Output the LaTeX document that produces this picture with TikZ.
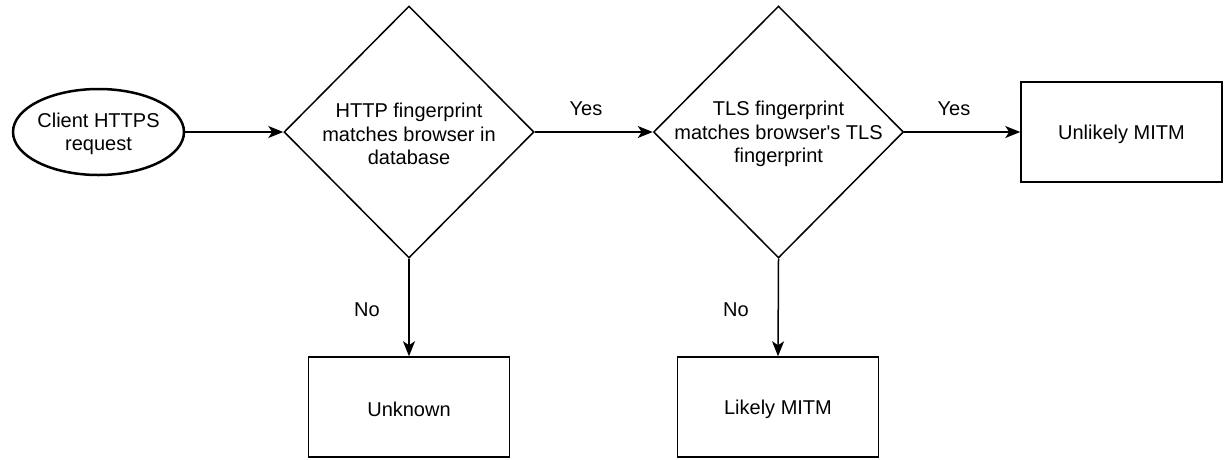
\documentclass[tikz,border=0pt]{standalone}
\usepackage{fontspec}
\setmainfont{Liberation Sans}
\usetikzlibrary{shapes.geometric,arrows.meta}

\tikzset{
  lbl/.style={font=\fontsize{20}{23.5}\selectfont, text=black},
  txt/.style={lbl, align=center},
  startnode/.style={ellipse, draw, line width=2.5pt, inner sep=0pt,
    minimum width=171pt, minimum height=86pt, txt},
  decision/.style={diamond, draw, line width=1.5pt, inner sep=0pt, aspect=1,
    minimum width=250pt, minimum height=252pt},
  outcome/.style={rectangle, draw, line width=1.5pt, inner sep=0pt,
    minimum width=201pt, minimum height=100pt, txt},
  flow/.style={draw, line width=1.5pt,
    -{Stealth[length=15pt, width=12pt, inset=4pt]}},
}

\begin{document}
\begin{tikzpicture}[x=1pt, y=-1pt]
  \useasboundingbox (0,0) rectangle (1225,459);

  % start of the flow
  \node[startnode] (start) at (98.5,132) {};
  \node[txt] (starttxt) at (98.5,134) {Client HTTPS\\request};

  % the two checks
  \node[decision] (d1) at (409,132) {};
  \node[txt] (d1txt) at (409,134) {HTTP fingerprint\\matches browser in\\database};
  \node[decision] (d2) at (778.5,132) {};
  \node[txt] (d2txt) at (778.5,134) {TLS fingerprint\\matches browser\textquotesingle s TLS\\fingerprint};

  % verdicts
  \node[outcome] (unlikely) at (1121.5,132) {};
  \node[txt] (unlikelytxt) at (1121.5,134) {Unlikely MITM};
  \node[outcome] (unknown) at (409,407) {};
  \node[txt] (unknowntxt) at (409,409) {Unknown};
  \node[outcome] (likely) at (778,407) {};
  \node[txt] (likelytxt) at (778,409) {Likely MITM};

  % connectors
  \draw[flow] (start.east) -- (d1.west);
  \draw[flow] (d1.east) -- (d2.west);
  \draw[flow] (d2.east) -- (unlikely.west);
  \draw[flow] (d1.south) -- (unknown.north);
  \draw[flow] (d2.south) -- (likely.north);

  % branch labels
  \node[lbl] (y1) at (586,109) {Yes};
  \node[lbl] (y2) at (954,109) {Yes};
  \node[lbl] (n1) at (367,310) {No};
  \node[lbl] (n2) at (736,310) {No};
\end{tikzpicture}
\end{document}
